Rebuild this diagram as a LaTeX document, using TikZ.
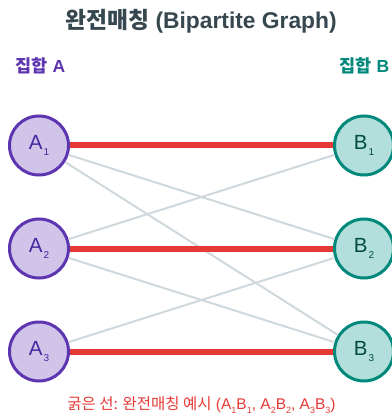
\documentclass[tikz,border=0pt]{standalone}
\usepackage{fontspec}
\setmainfont{Liberation Sans}
\newfontfamily\kr{Noto Sans CJK KR}
\usetikzlibrary{positioning}
\definecolor{setApurple}{HTML}{5E35B1}
\definecolor{setAfill}{HTML}{D1C4E9}
\definecolor{setAtext}{HTML}{4527A0}
\definecolor{setBteal}{HTML}{00897B}
\definecolor{setBfill}{HTML}{B2DFDB}
\definecolor{setBtext}{HTML}{004D40}
\definecolor{matchred}{HTML}{E53935}
\definecolor{edgegray}{HTML}{CFD8DC}
\definecolor{titlegray}{HTML}{37474F}
\newcommand{\vlabel}[2]{#1\kern1pt\raisebox{-0.6ex}{\fontsize{10}{10}\selectfont #2}}
\newcommand{\csub}[1]{\raisebox{-0.45ex}{\fontsize{9}{9}\selectfont #1}}

\begin{document}
\begin{tikzpicture}[x=1pt, y=-1pt,
vertA/.style={circle, minimum size=59pt, line width=3pt, draw=setApurple, fill=setAfill,
	text=setAtext, font=\fontsize{20.5}{20}\selectfont, inner sep=0pt},
vertB/.style={circle, minimum size=59pt, line width=3pt, draw=setBteal, fill=setBfill,
	text=setBtext, font=\fontsize{20.5}{20}\selectfont, inner sep=0pt},
other/.style={draw=edgegray, line width=2pt},
match/.style={draw=matchred, line width=6pt}]
\useasboundingbox (0,0) rectangle (391,419);

\node[font=\bfseries\fontsize{22.8}{23}\selectfont, text=titlegray] (title) at (201,21)
	{{\kr 완전매칭} (Bipartite Graph)};
\node[font=\bfseries\fontsize{17.5}{17}\selectfont, text=setApurple, anchor=west] (setA) at (12,66)
	{{\kr 집합} A};
\node[font=\bfseries\fontsize{17.5}{17}\selectfont, text=setBteal, anchor=west] (setB) at (336,66)
	{{\kr 집합} B};

\node[vertA] (a1) at (39,145.5) {\vlabel{A}{1}};
\node[vertA] (a2) at (39,248.5) {\vlabel{A}{2}};
\node[vertA] (a3) at (39,351.5) {\vlabel{A}{3}};
\node[vertB] (b1) at (364,145.5) {\vlabel{B}{1}};
\node[vertB] (b2) at (364,248.5) {\vlabel{B}{2}};
\node[vertB] (b3) at (364,351.5) {\vlabel{B}{3}};

% other edges
\draw[other] (a1) -- (b2);
\draw[other] (a1) -- (b3);
\draw[other] (a2) -- (b1);
\draw[other] (a2) -- (b3);
\draw[other] (a3) -- (b2);

% perfect matching
\draw[match] (a1) -- (b1);
\draw[match] (a2) -- (b2);
\draw[match] (a3) -- (b3);

\node[font=\fontsize{15.5}{15}\selectfont, text=matchred] (note) at (201.5,405)
	{{\kr 굵은 선: 완전매칭 예시} (A\csub{1}B\csub{1}, A\csub{2}B\csub{2}, A\csub{3}B\csub{3})};
\end{tikzpicture}
\end{document}
